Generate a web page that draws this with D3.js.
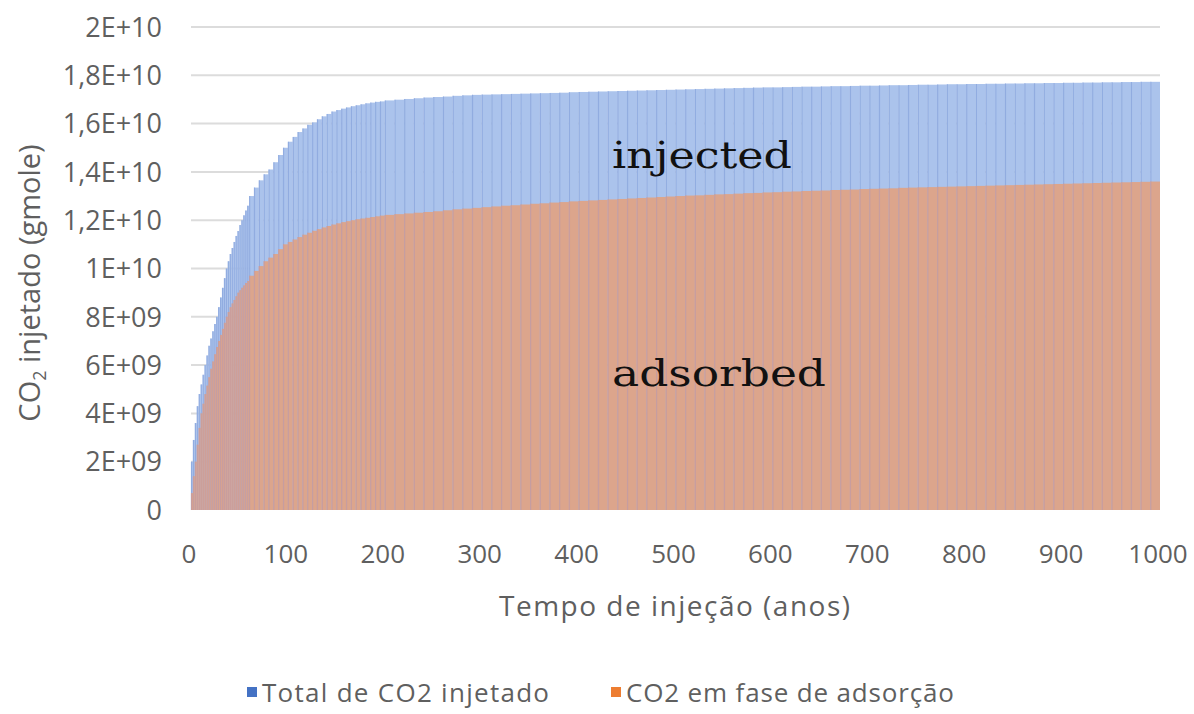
<!DOCTYPE html>
<html>
<head>
<meta charset="utf-8">
<script src="https://cdn.jsdelivr.net/npm/d3@7"></script>
<style>
  html, body { margin: 0; padding: 0; background: #fff; }
  svg { display: block; }
</style>
</head>
<body>
<svg id="chart" width="1194" height="714"></svg>
<script>
// Injection time (years) for each bar
const years = [
  0, 2, 4, 6, 8, 10, 12, 14, 16, 18, 20, 22, 24, 26, 28, 30, 32, 34, 36, 38, 40,
  42, 44, 46, 48, 50, 52, 54, 56, 58, 60,
  65, 70, 75, 80, 85, 90, 95, 100, 105, 110, 115, 120, 125, 130, 135, 140, 145, 150,
  155, 160, 165, 170, 175, 180, 185, 190, 195, 200,
  210, 220, 230, 240, 250, 260, 270, 280, 290, 300,
  310, 320, 330, 340, 350, 360, 370, 380, 390, 400,
  410, 420, 430, 440, 450, 460, 470, 480, 490, 500,
  510, 520, 530, 540, 550, 560, 570, 580, 590, 600,
  610, 620, 630, 640, 650, 660, 670, 680, 690, 700,
  710, 720, 730, 740, 750, 760, 770, 780, 790, 800,
  810, 820, 830, 840, 850, 860, 870, 880, 890, 900,
  910, 920, 930, 940, 950, 960, 970, 980, 990, 1000
];

// Total CO2 injected (units of 1E+09 gmole)
const totalInjected = [
  0, 2.0, 2.9, 3.6, 4.3, 4.8, 5.2, 5.6, 6.0, 6.4, 6.8, 7.1, 7.4, 7.7, 8.0, 8.4, 8.8, 9.2, 9.6, 10.0, 10.3,
  10.6, 10.85, 11.1, 11.35, 11.55, 11.8, 12.0, 12.2, 12.4, 12.6,
  13.0, 13.35, 13.65, 13.9, 14.1, 14.4, 14.7, 15.0, 15.25, 15.45, 15.65, 15.8, 15.95, 16.05, 16.18, 16.3, 16.4, 16.5,
  16.56, 16.62, 16.67, 16.72, 16.76, 16.8, 16.84, 16.87, 16.9, 16.92,
  16.96, 16.99, 17.02, 17.05, 17.08, 17.1, 17.12, 17.15, 17.17, 17.19,
  17.2, 17.21, 17.22, 17.23, 17.24, 17.25, 17.26, 17.27, 17.28, 17.3,
  17.31, 17.32, 17.33, 17.34, 17.35, 17.36, 17.37, 17.38, 17.39, 17.4,
  17.41, 17.42, 17.43, 17.44, 17.45, 17.46, 17.47, 17.48, 17.49, 17.5,
  17.5, 17.51, 17.52, 17.53, 17.53, 17.54, 17.55, 17.55, 17.56, 17.57,
  17.57, 17.58, 17.59, 17.59, 17.6, 17.61, 17.61, 17.62, 17.63, 17.63,
  17.64, 17.64, 17.65, 17.65, 17.66, 17.66, 17.67, 17.67, 17.68, 17.68,
  17.69, 17.69, 17.7, 17.7, 17.71, 17.71, 17.72, 17.72, 17.73, 17.73
];

// CO2 in adsorbed phase (units of 1E+09 gmole)
const adsorbed = [
  0, 0.7, 1.4, 2.0, 2.7, 3.4, 4.0, 4.4, 4.8, 5.15, 5.5, 5.85, 6.15, 6.45, 6.75, 7.0, 7.25, 7.5, 7.75, 8.0, 8.2,
  8.4, 8.55, 8.7, 8.85, 9.0, 9.1, 9.2, 9.3, 9.4, 9.48,
  9.7, 9.9, 10.1, 10.3, 10.45, 10.6, 10.8, 11.0, 11.1, 11.2, 11.3, 11.4, 11.48, 11.56, 11.63, 11.7, 11.76, 11.82,
  11.87, 11.92, 11.96, 12.0, 12.04, 12.07, 12.1, 12.13, 12.16, 12.19,
  12.22, 12.25, 12.28, 12.31, 12.34, 12.37, 12.41, 12.45, 12.48, 12.51,
  12.54, 12.57, 12.6, 12.62, 12.65, 12.68, 12.7, 12.73, 12.75, 12.78,
  12.8, 12.82, 12.84, 12.86, 12.88, 12.9, 12.92, 12.94, 12.96, 12.98,
  13.0, 13.02, 13.03, 13.05, 13.07, 13.08, 13.1, 13.12, 13.13, 13.15,
  13.16, 13.18, 13.19, 13.21, 13.22, 13.23, 13.25, 13.26, 13.27, 13.29,
  13.3, 13.31, 13.32, 13.34, 13.35, 13.36, 13.37, 13.38, 13.39, 13.4,
  13.41, 13.42, 13.43, 13.44, 13.45, 13.46, 13.47, 13.48, 13.49, 13.5,
  13.51, 13.52, 13.53, 13.54, 13.55, 13.56, 13.57, 13.58, 13.59, 13.6
];

const yTickValues = [0, 2e9, 4e9, 6e9, 8e9, 1e10, 1.2e10, 1.4e10, 1.6e10, 1.8e10, 2e10];
const yTickLabels = ["0", "2E+09", "4E+09", "6E+09", "8E+09", "1E+10", "1,2E+10", "1,4E+10", "1,6E+10", "1,8E+10", "2E+10"];
const xTickValues = [0, 100, 200, 300, 400, 500, 600, 700, 800, 900, 1000];

const seriesNames = ["Total de CO2 injetado", "CO2 em fase de adsorção"];
const seriesColors = ["#4472c4", "#ed7d31"];

const svg = d3.select("#chart");
const axisFont = "'Open Sans', Lato, sans-serif";
const textGrey = "#5f5f5f";

const x = d3.scaleLinear().domain([0, 1000]).range([191, 1160]);
const y = d3.scaleLinear().domain([0, 2e10]).range([510, 27]);

// horizontal gridlines
svg.append("g")
  .selectAll("line")
  .data(yTickValues.slice(1))
  .join("line")
  .attr("x1", x(0)).attr("x2", x(1000))
  .attr("y1", d => y(d)).attr("y2", d => y(d))
  .attr("stroke", "#dcdcdc")
  .attr("stroke-width", 2);

// bars: each bar covers the interval ending at its year
function drawBars(values, fill, edge) {
  const g = svg.append("g");
  const rows = years.map((t, i) => ({ t, prev: i === 0 ? t : years[i - 1], v: values[i] * 1e9 }))
    .filter(d => d.v > 0);
  g.selectAll("rect")
    .data(rows)
    .join("rect")
    .attr("x", d => x(d.prev))
    .attr("width", d => x(d.t) - x(d.prev))
    .attr("y", d => y(d.v))
    .attr("height", d => y(0) - y(d.v))
    .attr("fill", fill);
  // thin darker edge between neighbouring bars
  g.selectAll("line")
    .data(rows)
    .join("line")
    .attr("x1", d => x(d.prev) + 0.5).attr("x2", d => x(d.prev) + 0.5)
    .attr("y1", d => y(d.v)).attr("y2", y(0))
    .attr("stroke", edge)
    .attr("stroke-width", 1.2)
    .attr("stroke-opacity", 0.7);
}
drawBars(totalInjected, "#abc3ec", "#86a2dc");
drawBars(adsorbed, "#dca58c", "#bf9aa6");

// y axis tick labels
svg.append("g")
  .selectAll("text")
  .data(yTickValues)
  .join("text")
  .attr("x", 162)
  .attr("y", d => y(d))
  .attr("dy", "0.36em")
  .attr("text-anchor", "end")
  .attr("font-family", axisFont)
  .attr("font-size", 27)
  .attr("fill", textGrey)
  .text((d, i) => yTickLabels[i]);

// x axis tick labels
svg.append("g")
  .selectAll("text")
  .data(xTickValues)
  .join("text")
  .attr("x", d => x(d) - 2)
  .attr("y", 563)
  .attr("text-anchor", "middle")
  .attr("font-family", axisFont)
  .attr("font-size", 26)
  .attr("fill", textGrey)
  .text(d => d);

// axis titles
svg.append("text")
  .attr("x", 499).attr("y", 616)
  .attr("font-family", axisFont)
  .attr("font-size", 28)
  .attr("textLength", 351)
  .attr("lengthAdjust", "spacing")
  .attr("fill", textGrey)
  .text("Tempo de injeção (anos)");

const yTitle = svg.append("text")
  .attr("transform", "translate(40,283) rotate(-90)")
  .attr("text-anchor", "middle")
  .attr("font-family", axisFont)
  .attr("font-size", 29)
  .attr("fill", textGrey);
yTitle.append("tspan").text("CO");
yTitle.append("tspan").attr("font-size", 18).attr("dy", 6).text("2");
yTitle.append("tspan").attr("dy", -6).text(" injetado (gmole)");

// in-plot annotations
const noteFont = "'DejaVu Serif', 'Liberation Serif', serif";
svg.append("text")
  .attr("x", 612).attr("y", 168)
  .attr("font-family", noteFont)
  .attr("font-size", 37)
  .attr("textLength", 180)
  .attr("lengthAdjust", "spacingAndGlyphs")
  .attr("fill", "#111")
  .text("injected");
svg.append("text")
  .attr("x", 612).attr("y", 386)
  .attr("font-family", noteFont)
  .attr("font-size", 37)
  .attr("textLength", 214)
  .attr("lengthAdjust", "spacingAndGlyphs")
  .attr("fill", "#111")
  .text("adsorbed");

// legend
const legendX = [247, 611];
const legendLen = [287, 328];
const legend = svg.append("g")
  .selectAll("g")
  .data(seriesNames)
  .join("g")
  .attr("transform", (d, i) => `translate(${legendX[i]},0)`);
legend.append("rect")
  .attr("x", 0).attr("y", 687)
  .attr("width", 10).attr("height", 10)
  .attr("fill", (d, i) => seriesColors[i]);
legend.append("text")
  .attr("x", 15).attr("y", 702)
  .attr("font-family", axisFont)
  .attr("font-size", 26)
  .attr("textLength", (d, i) => legendLen[i])
  .attr("lengthAdjust", "spacing")
  .attr("fill", textGrey)
  .text(d => d);
</script>
</body>
</html>
